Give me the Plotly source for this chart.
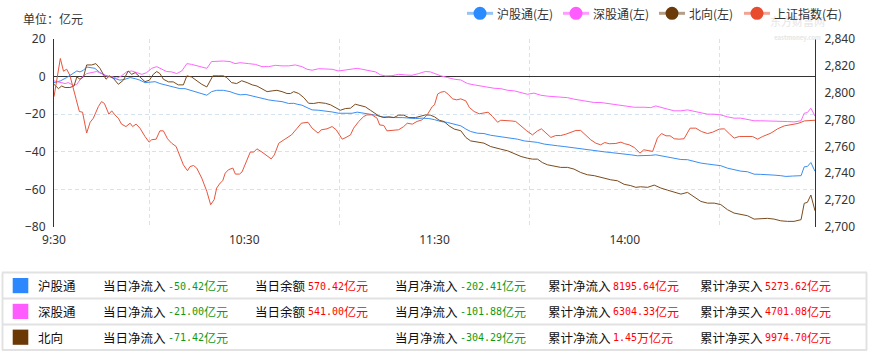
import re
import plotly.graph_objects as go

# ---------------- data ----------------
series_names = ["沪股通(左)", "深股通(左)", "北向(左)", "上证指数(右)"]
x_tick_vals = [0, 60, 120, 180]
x_tick_text = ["9:30", "10:30", "11:30", "14:00"]
x_grid_vals = [30, 90, 150, 210]
left_ticks = [-80, -60, -40, -20, 0, 20]
right_ticks = [2700, 2720, 2740, 2760, 2780, 2800, 2820, 2840]

hgt_t = [0, 2, 4, 5.6, 7.2, 8.2, 9.3, 10.3, 11.9, 12.9, 14.5, 16.1, 17.7, 19.2, 20.8, 22.4, 24, 25.6, 27.1, 28.7,
         30.3, 31.9, 33.4, 35, 36.6, 38.2, 39.7, 41.3, 42.9, 45, 46.6, 48.2, 49.7, 51.3, 53.4, 55.5, 57.1, 58.7,
         60.5, 61.4, 63.5, 65.6, 67.7, 69.8, 71.9, 74, 75.6, 76.7, 78.2, 79.8, 81.4, 83.5, 85.6, 87.7, 89.8,
         91.9, 94, 95.6, 97.2, 99.3, 101.4, 103.5, 105.6, 107.7, 109.8, 111.9, 114, 116.1, 118.2, 120, 122,
         124.1, 126.2, 128.3, 129.9, 131.4, 133.5, 135.6, 137.7, 139.9, 142, 144.1, 146.2, 148.3, 150.4, 152.5,
         154.6, 156.7, 158.8, 160.9, 163, 165.1, 167.2, 169.3, 171.4, 173.5, 175.6, 177.7, 179.8, 181.9, 184,
         186.1, 188.2, 189.8, 191.4, 193.5, 195.6, 197.7, 199.8, 201.9, 204, 206.1, 208.2, 210.3, 212.4, 214.5,
         216.6, 218.7, 220.8, 222.9, 225, 227.1, 229.2, 230.8, 232.9, 235.6, 236.6, 237.6, 238.7, 240]
hgt_v = [-3.2, -2.3, -0.5, 1.2, 3, 2.5, 3.4, 5.1, 4.8, 4.4, 2.1, 0.7, -0.2, -1.1, -1.9, -1.4, -0.5, -1.1, -1.9, -3.2,
         -2.8, -2.7, -3.7, -4.4, -5, -5.8, -6.4, -6.4, -7.3, -8.5, -9, -9.9, -8, -7.3, -7.3, -8, -9, -9.7,
         -9.5, -9.9, -10.8, -11.7, -12.4, -12.9, -13.3, -14.3, -14.2, -14.7, -15.2, -16.5, -17.7, -17.9, -18.2, -18.8, -19.5,
         -19.6, -19.5, -18.9, -19.3, -19.6, -20.5, -21.4, -21.8, -21.8, -21.8, -22.1, -22.3, -22.1, -22.3, -22.9, -23.9,
         -24.4, -25.3, -26.2, -27.9, -29.2, -30.1, -30.3, -31.2, -31.7, -32, -32.7, -33.3, -34.2, -34.5, -35,
         -35.9, -36.5, -36.8, -37.2, -37.7, -38.2, -38.9, -39.1, -39.5, -40, -40.4, -40.7, -41.2, -41.6, -42.1,
         -42.1, -41.9, -41.6, -42.1, -42.7, -43.5, -44.1, -44.2, -45.3, -46, -46.5, -46.9, -47.4, -48.7, -49.7,
         -50.3, -50.6, -51.9, -52, -52, -52.4, -52.7, -53.1, -52.9, -52.7, -48, -47.8, -45.7, -50.4]

sgt_t = [0, 2, 3.5, 4.5, 6.1, 7.2, 8.7, 10.3, 11.9, 13.5, 15, 16.6, 18.2, 19.8, 21.3, 22.9, 24.5, 26.1, 27.7, 29.2,
         30.8, 32.4, 34, 35.5, 37.1, 38.7, 40.3, 41.9, 43.4, 45, 46.6, 48.2, 49.7, 51.3, 53.4, 55.5, 57.1, 58.7,
         60.5, 61.4, 63.5, 65.6, 67.7, 69.8, 71.9, 74, 76.1, 78.2, 79.8, 81.4, 83.5, 85.6, 87.7, 89.8, 91.9, 94,
         95.6, 97.2, 99.3, 101.4, 103, 104.5, 106.6, 108.7, 110.8, 112.9, 115, 117.1, 118.7, 120, 122, 124.1,
         126.2, 128.3, 130.4, 132.5, 134.6, 136.7, 138.8, 140.9, 143.1, 145.2, 147.3, 149.3, 151.4, 153.5, 155.6,
         157.7, 159.8, 162, 164, 166.1, 168.2, 170.4, 172.5, 174.6, 176.6, 178.8, 180.9, 183, 186.1, 188.2, 189.8,
         191.4, 193.5, 195.6, 197.7, 199.8, 201.9, 204, 206.1, 208.2, 210.3, 212.4, 214.5, 216.6, 218.7, 220.8,
         222.9, 225, 227.1, 229.2, 231.3, 233.4, 235.6, 236.6, 237.6, 238.7, 240]
sgt_v = [-2.3, -3.2, -3.7, -3.2, -4.6, -4.1, -0.5, 1.6, 2.1, 2.7, 1.6, 0.4, 0, -0.9, 0.4, 2.5, 3, 2.1, 1.2, 2.1,
         4.4, 5.3, 3.9, 2.7, 2.5, 1.6, 3, 6.9, 6.5, 5.7, 5.1, 4.4, 8, 8.3, 8.3, 8, 6.9, 7.4,
         7.3, 6.9, 6.5, 5.3, 5.3, 6, 5.7, 5.7, 6.2, 5.3, 3.9, 3.4, 4.2, 4.2, 3.9, 3, 3.4, 3.9,
         4.4, 3.9, 3.4, 2.5, 0.9, 0.4, 0.5, 1.2, 0.9, 0.7, 1.6, 2.7, 2.5, 1.5, 0.4, -0.5,
         -1.4, -1.8, -3.7, -4.4, -5, -5.5, -6.2, -6.4, -7.3, -7.6, -8.5, -9.4, -8.8, -9.9, -10.4,
         -10.6, -10.8, -11.2, -12, -12.6, -13.3, -13.8, -13.8, -14.3, -14.7, -15, -15.7, -16.3, -16.3, -16.5, -15.6,
         -16.5, -17.3, -18.2, -18.2, -17.7, -18.6, -19.5, -20, -20, -20.4, -21.4, -22.1, -22.1, -22.7, -23.5,
         -23.5, -23.5, -23.5, -23.9, -23.9, -24.1, -23.5, -19.5, -19.1, -16.8, -21.0]

bx_t = [0, 1.4, 2.4, 3.5, 5, 6.3, 7.2, 8.2, 9.3, 10.3, 11.9, 13.2, 14.5, 16.4, 17.5, 18.7, 20.3, 21.9, 23.4, 24.5,
        25.6, 27.1, 28.7, 30.1, 31.3, 32.4, 33.4, 34.5, 36.1, 37.6, 39.2, 40.8, 41.9, 43.4, 45, 46.6, 48.2, 50.1,
        51.8, 53.4, 54.5, 56, 57.6, 59.2, 60.9, 62.5, 64, 65.6, 67.2, 68.8, 70.3, 71.9, 73.5, 74.6, 75.6, 77.2,
        78.8, 80.3, 81.9, 83.5, 85.6, 87.2, 88.7, 90.3, 91.9, 93.5, 95, 96.6, 98.2, 99.8, 100.9, 102.4, 104,
        105.6, 107.2, 108.7, 110.3, 111.9, 114, 115.6, 117.1, 118.7, 120, 121.5, 123, 124.6, 126.2, 128.3, 129.9,
        131.4, 133.5, 135.6, 137.7, 139.3, 140.9, 143.1, 145.2, 147.3, 149.3, 150.9, 152.5, 154, 155.6, 157.7,
        159.8, 162, 164, 166.1, 168.2, 170.4, 172.5, 174, 175.6, 177.7, 179.8, 181.9, 183.5, 185, 187.2, 189.3,
        191.4, 193.5, 195.6, 197.7, 199.8, 201.9, 204, 206.1, 208.2, 210.3, 212.4, 214.5, 216.6, 218.7, 220.8,
        222.9, 225, 227.1, 229.2, 231.3, 233.4, 235.6, 236.6, 237.6, 238.7, 240]
bx_v = [-4.1, -6.4, -5, -5.8, -5.8, -5, -0.2, -1.4, -0.2, 6.2, 6.2, 6.9, 4.4, -1.4, 0.4, -0.9, -4.1, -1.9, 3, 1.2,
        2.1, -0.5, -2.7, -1.9, 1.2, 2.7, 1.6, -1.4, -2.8, -2.8, -4.4, -4.4, 0.4, -0.2, -2.3, -4.1, -5.5, 0.4,
        0.4, 0.4, -0.5, -3.2, -3.7, -2.2, -3.2, -4.4, -5, -6.7, -8, -7.6, -7.3, -8, -9, -9, -8, -9,
        -11.2, -14.2, -14.3, -13.8, -14.2, -15, -16.5, -17.9, -17, -16.8, -14.7, -15.6, -16.1, -17.9, -19.1, -20.9, -21.8,
        -21.4, -21.8, -20.5, -20.5, -21.8, -21.8, -20.9, -20.4, -20.5, -21.4, -23.2, -23.9, -26.2, -27.9, -28.8, -32.4,
        -34.2, -35, -35.4, -37.2, -38.1, -38.6, -39.5, -40.9, -42.5, -43.4, -43.9, -43.9, -45.7, -46.9, -47.4,
        -48.3, -48.3, -49.2, -51, -52.2, -52.7, -53.6, -54, -54.9, -55.4, -57.3, -58, -58.9, -58.6, -58.9, -57.7,
        -59.3, -60.4, -61.6, -62.5, -61.6, -64.2, -66.4, -67.3, -67.3, -68.1, -70.8, -72.6, -73.1, -74, -75.8,
        -75.4, -75.4, -75.8, -76.7, -77, -77, -76.1, -67.4, -66.9, -63, -71.4]

szi_t = [0, 2, 3, 4, 5, 6, 7, 8, 9, 10.3, 11.4, 12.4, 14, 15, 15.9, 17.3, 18.2, 19.2, 20.3, 21.3, 22.7, 24, 24.8,
         25.9, 27.1, 28.7, 30, 30.8, 32.2, 33.4, 34.5, 35.8, 37.1, 38.5, 39.7, 40.8, 42.1, 42.9, 44, 45, 46.6,
         48.2, 49.4, 50.5, 51.3, 52.4, 53.2, 54, 55, 56.4, 57.2, 58.5, 59.3, 60.4, 61.9, 63, 64, 65.6, 67.2, 68.5,
         69.5, 70.9, 72.5, 74.9, 76.7, 78, 80.1, 81.4, 83.3, 84.3, 86.1, 87.7, 89, 90.9, 92.1, 93.5, 94.5, 96.1,
         97.7, 98.7, 100.3, 101.9, 102.7, 104, 105, 107.2, 108.7, 110.3, 111.4, 113, 114.5, 116.1, 117.7, 119.3,
         120, 121, 122, 123.2, 124.3, 125.7, 127, 128.3, 129.9, 131, 132.5, 134.1, 135.6, 136.9, 138.3, 139.9,
         140.9, 142.5, 144.1, 145.6, 147.4, 149.1, 150.9, 152.5, 153.7, 155.1, 156.7, 158.2, 159.8, 161.4, 163,
         164.6, 166.1, 167.7, 169.3, 170.9, 172.4, 173.7, 175.1, 177.2, 178.8, 180, 181.4, 183, 184.8, 186, 187.2,
         188.8, 190.3, 191.6, 193, 194.3, 195.6, 197.2, 198.7, 200.6, 202.4, 204.2, 206.1, 207.7, 209.8, 211.4,
         213, 214.5, 216.1, 218.2, 220.3, 221.9, 223.5, 226.1, 228.2, 230.3, 232.4, 234.6, 236.7, 238.3, 240]
szi_v = [2797, 2825.5, 2816, 2817.5, 2813, 2803, 2795, 2786, 2785.5, 2770, 2778, 2781, 2789.7, 2793.4, 2792, 2784,
         2786.5, 2783.5, 2781, 2776.6, 2774.8, 2777.3, 2774.8, 2776.6, 2773.6, 2767.4, 2763.2, 2765, 2765.4,
         2771.6, 2771.6, 2765.7, 2762.4, 2760, 2752.5, 2746.3, 2741.9, 2745, 2745.8, 2743.9, 2736.4, 2726.5,
         2716.6, 2720.3, 2729, 2732.7, 2734.4, 2740.1, 2742.6, 2743.9, 2739.4, 2739.4, 2741, 2747.6, 2755.8,
         2755.8, 2758.2, 2755.8, 2753, 2750.7, 2753.7, 2762.4, 2764.9, 2768.6, 2773.6, 2777.3, 2778, 2773.6,
         2769.9, 2772.4, 2773.1, 2774.8, 2772.4, 2765.4, 2766.7, 2768.6, 2773.6, 2778.6, 2782.3, 2783.5, 2783.5,
         2781, 2776, 2775.6, 2771.6, 2771.9, 2772.4, 2774.8, 2777.3, 2776.6, 2778.6, 2779.8, 2783.5, 2789.7,
         2791, 2799, 2800.4, 2800.9, 2798.9, 2795.4, 2794.7, 2795.4, 2793.9, 2789, 2786, 2784.3, 2784.8, 2785.5,
         2782.3, 2778, 2779.5, 2779, 2779, 2778.6, 2774.8, 2771.6, 2768.6, 2771.6, 2773.1, 2769.9, 2766.7,
         2768.1, 2768.1, 2769.1, 2770.6, 2771.9, 2771.9, 2768.6, 2764.9, 2762.4, 2761.2, 2762.9, 2762, 2762.2,
         2763.2, 2762, 2761.2, 2759.2, 2755, 2757.5, 2756.8, 2756.3, 2766.2, 2769.6, 2767.9, 2767.9, 2765.7,
         2765.4, 2765.7, 2773.6, 2773.6, 2771.1, 2769.6, 2770.6, 2772.9, 2773.1, 2769.4, 2766.2, 2767.4, 2767.4,
         2767.4, 2765.4, 2767.4, 2769.9, 2773.1, 2775.3, 2776.1, 2777.1, 2779, 2779.5, 2779.5]

# bottom summary table
row_names = ["沪股通", "深股通", "北向"]
col_labels = ["当日净流入", "当日余额", "当月净流入", "累计净流入", "累计净买入"]
daily_net = ["-50.42亿元", "-21.00亿元", "-71.42亿元"]
day_balance = ["570.42亿元", "541.00亿元", ""]
month_net = ["-202.41亿元", "-101.88亿元", "-304.29亿元"]
cum_inflow = ["8195.64亿元", "6304.33亿元", "1.45万亿元"]
cum_buy = ["5273.62亿元", "4701.08亿元", "9974.70亿元"]

# ---------------- styling ----------------
W, H = 869, 352
L, R, T, B = 54, 54, 39, 125
PW, PH = W - L - R, H - T - B


def px(x):
    return (x - L) / PW


def py(y):
    return (H - B - y) / PH


line_colors = ["#3a8ef2", "#ff66ff", "#7a4b1e", "#e8553d"]
dot_colors = ["#2a8bff", "#ff5cff", "#6a3a08", "#e84b2e"]
leg_line_colors = ["#93c2f7", "#ff9cff", "#b49e88", "#f2a393"]
square_colors = ["#2b88ff", "#ff5cff", "#6b3906"]
CJK = "Noto Sans CJK SC"
MONO = "DejaVu Sans Mono"

fig = go.Figure()
fig.add_trace(go.Scatter(x=hgt_t, y=hgt_v, name=series_names[0], mode="lines",
                         line=dict(color=line_colors[0], width=1)))
fig.add_trace(go.Scatter(x=sgt_t, y=sgt_v, name=series_names[1], mode="lines",
                         line=dict(color=line_colors[1], width=1)))
fig.add_trace(go.Scatter(x=bx_t, y=bx_v, name=series_names[2], mode="lines",
                         line=dict(color=line_colors[2], width=1)))
fig.add_trace(go.Scatter(x=szi_t, y=szi_v, name=series_names[3], mode="lines", yaxis="y2",
                         line=dict(color=line_colors[3], width=1)))

grid_c = "#d5e3f1"
fig.update_layout(
    width=W, height=H,
    margin=dict(l=L, r=R, t=T, b=B),
    paper_bgcolor="white", plot_bgcolor="white",
    showlegend=False,
    font=dict(family=CJK, size=12, color="#333"),
    xaxis=dict(range=[0, 240], showline=False, zeroline=False, showgrid=False,
               tickmode="array", tickvals=x_tick_vals, ticktext=x_tick_text, ticks="",
               tickfont=dict(family="Noto Sans", size=12, color="#333"), ticklabelstandoff=4,
               minor=dict(tickmode="array", tickvals=x_grid_vals, showgrid=True, gridcolor=grid_c,
                          griddash="4px,3px", gridwidth=1, ticks="")),
    yaxis=dict(range=[-80, 20], tickmode="array", tickvals=left_ticks, showline=True,
               linecolor="#333", linewidth=1, showgrid=True, gridcolor=grid_c, griddash="4px,3px",
               zeroline=True, zerolinecolor="#333", zerolinewidth=1, ticks="",
               tickfont=dict(family="Noto Sans", size=12, color="#333"), ticklabelstandoff=5),
    yaxis2=dict(range=[2700, 2840], overlaying="y", side="right", tickmode="array",
                tickvals=right_ticks, tickformat=",d", showline=True, linecolor="#333", linewidth=1,
                showgrid=False, zeroline=False, ticks="",
                tickfont=dict(family="Noto Sans", size=12, color="#333"), ticklabelstandoff=6),
)

shapes = []
annotations = []

# faint watermark (one text block, sits just under the legend)
annotations.append(dict(x=px(797), y=py(28), xref="paper", yref="paper",
                        text="东方财富网<br><span style='font-size:6px'><b>eastmoney.com</b></span>",
                        showarrow=False, font=dict(family=CJK, size=11, color="#e6e6e6"),
                        xanchor="center", yanchor="middle", borderpad=0, borderwidth=0))

# unit label
annotations.append(dict(x=px(23), y=py(18), xref="paper", yref="paper", text="单位：亿元",
                        showarrow=False, font=dict(family=CJK, size=12, color="#333"),
                        xanchor="left", yanchor="middle", borderpad=0, borderwidth=0))

# legend
leg_start = [467, 563, 659, 744]
leg_y = 13.3
for i, name in enumerate(series_names):
    x0 = leg_start[i]
    shapes.append(dict(type="line", xref="paper", yref="paper", x0=px(x0), x1=px(x0 + 26),
                       y0=py(leg_y), y1=py(leg_y), line=dict(color=leg_line_colors[i], width=3)))
    shapes.append(dict(type="circle", xref="paper", yref="paper", xsizemode="pixel", ysizemode="pixel",
                       xanchor=px(x0 + 13), yanchor=py(leg_y), x0=-6.5, x1=6.5, y0=-6.5, y1=6.5,
                       fillcolor=dot_colors[i], line=dict(width=0)))
    annotations.append(dict(x=px(x0 + 30), y=py(leg_y), xref="paper", yref="paper", text=name,
                            showarrow=False, font=dict(family=CJK, size=12, color="#333"),
                            xanchor="left", yanchor="middle", borderpad=0, borderwidth=0))

# table
border_c = "#e2e2e2"
row_lines = [272.5, 298.5, 324.5, 350]
for yl in row_lines:
    shapes.append(dict(type="line", xref="paper", yref="paper", x0=px(2), x1=px(867),
                       y0=py(yl), y1=py(yl), line=dict(color=border_c, width=2)))
for xl in [2.5, 866.5]:
    shapes.append(dict(type="line", xref="paper", yref="paper", x0=px(xl), x1=px(xl),
                       y0=py(272.5), y1=py(350), line=dict(color=border_c, width=2)))

row_centers = [285.6, 311.4, 337.2]
label_x = [103, 255, 395, 548, 700]
value_x = [168, 308, 460, 613, 765]
value_cols = [daily_net, day_balance, month_net, cum_inflow, cum_buy]
value_colors = ["#119911", "#ff0000", "#119911", "#ff0000", "#ff0000"]


def text_ann(x, y, text, family, size, color):
    return dict(x=px(x), y=py(y), xref="paper", yref="paper", text=text, showarrow=False,
                font=dict(family=family, size=size, color=color), xanchor="left", yanchor="middle",
                borderpad=0, borderwidth=0)


for r, name in enumerate(row_names):
    yc = row_centers[r]
    shapes.append(dict(type="rect", xref="paper", yref="paper", x0=px(12.7), x1=px(28.3),
                       y0=py(yc - 7.6), y1=py(yc + 7.6), fillcolor=square_colors[r], line=dict(width=0)))
    annotations.append(text_ann(38, yc, name, CJK, 12.5, "#111"))
    for c, lab in enumerate(col_labels):
        val = value_cols[c][r]
        if not val:
            continue
        annotations.append(text_ann(label_x[c], yc, lab, CJK, 12.5, "#111"))
        m = re.match(r"[-0-9.]+", val)
        num = m.group(0)
        unit = val[len(num):]
        annotations.append(text_ann(value_x[c], yc + 0.5, num, MONO, 10, value_colors[c]))
        annotations.append(text_ann(value_x[c] + 6.02 * len(num), yc, unit, CJK, 12, value_colors[c]))

fig.update_layout(shapes=shapes, annotations=annotations)
fig.write_html("out.html")
